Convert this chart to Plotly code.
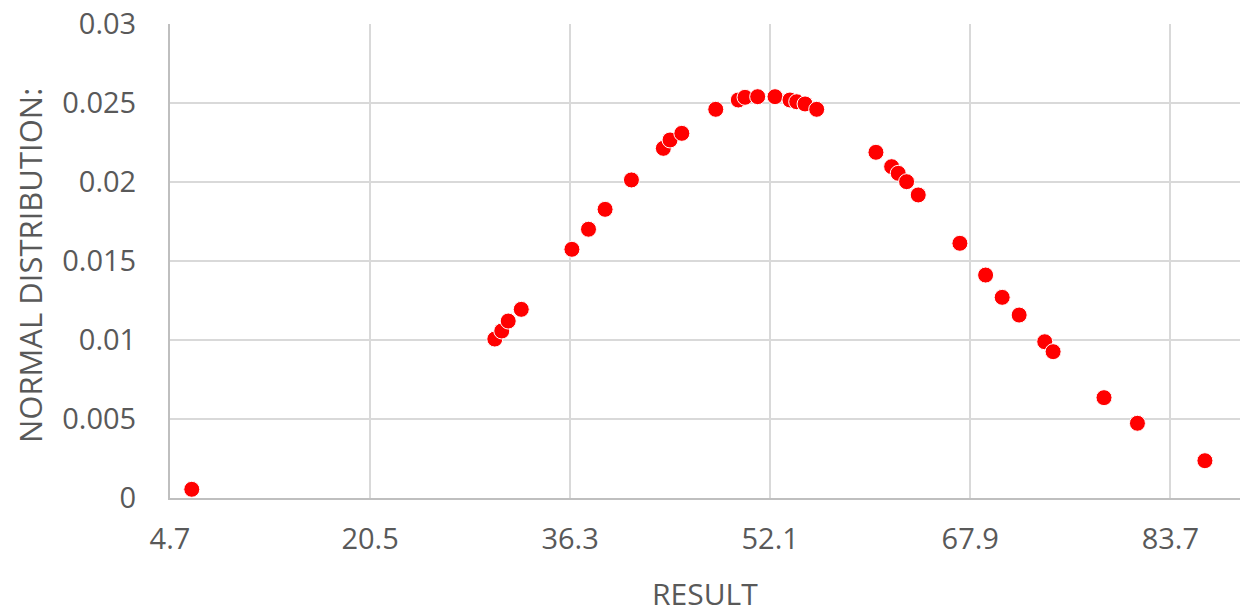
import plotly.graph_objects as go

# Observed results and their normal-distribution densities
result = [6.42, 30.35, 30.9, 31.41, 32.44, 36.44, 37.75, 39.06, 41.14, 43.66,
          44.19, 45.12, 47.8, 49.58, 50.11, 51.11, 52.48, 53.66, 54.19, 54.85,
          55.77, 60.45, 61.69, 62.21, 62.87, 63.79, 67.08, 69.11, 70.42, 71.76,
          73.78, 74.44, 78.46, 81.1, 86.43]
density = [0.00055, 0.01006, 0.01057, 0.0112, 0.01194, 0.01574, 0.01701, 0.01827,
           0.02013, 0.02213, 0.02266, 0.02308, 0.0246, 0.02519, 0.02536, 0.0254,
           0.0254, 0.02519, 0.02508, 0.02494, 0.0246, 0.02188, 0.02097, 0.02055,
           0.02002, 0.01918, 0.01612, 0.01411, 0.0127, 0.01158, 0.00989, 0.00926,
           0.00635, 0.00473, 0.00236]

x_ticks = [4.7, 20.5, 36.3, 52.1, 67.9, 83.7]
y_ticks = [0, 0.005, 0.01, 0.015, 0.02, 0.025, 0.03]
y_tick_text = ["0", "0.005", "0.01", "0.015", "0.02", "0.025", "0.03"]

text_grey = "#595959"
grid_grey = "#d9d9d9"
axis_grey = "#bfbfbf"
font_family = "Open Sans, DejaVu Sans, sans-serif"

fig = go.Figure()
fig.add_trace(go.Scatter(
    x=result, y=density, mode="markers",
    marker=dict(color="#ff0000", size=16, line=dict(color="white", width=1)),
    showlegend=False,
))

fig.update_layout(
    width=1240, height=614,
    margin=dict(l=170, r=0, t=24, b=116),
    paper_bgcolor="white", plot_bgcolor="white",
    font=dict(family=font_family, color=text_grey),
    xaxis=dict(
        range=[4.7, 89.2], tickvals=x_ticks, ticktext=[str(v) for v in x_ticks],
        showgrid=True, gridcolor=grid_grey, gridwidth=2,
        showline=True, linecolor=axis_grey, linewidth=2,
        zeroline=False, ticks="", ticklabelstandoff=14,
        tickfont=dict(size=29, color=text_grey),
    ),
    yaxis=dict(
        range=[0, 0.03], tickvals=y_ticks, ticktext=y_tick_text,
        showgrid=True, gridcolor=grid_grey, gridwidth=2,
        showline=True, linecolor=axis_grey, linewidth=2,
        zeroline=False, ticks="", ticklabelstandoff=26,
        tickfont=dict(size=29, color=text_grey),
    ),
    annotations=[
        dict(text="RESULT", xref="paper", yref="paper", x=0.5, y=0,
             yshift=-95, xanchor="center", yanchor="middle", showarrow=False,
             font=dict(size=30, color=text_grey, family=font_family)),
        dict(text="NORMAL DISTRIBUTION:", xref="paper", yref="paper",
             x=0, y=0.5, xshift=-140, yshift=-5, textangle=-90,
             xanchor="center", yanchor="middle", showarrow=False,
             font=dict(size=31, color=text_grey, family=font_family)),
    ],
)

fig.write_html("out.html")
